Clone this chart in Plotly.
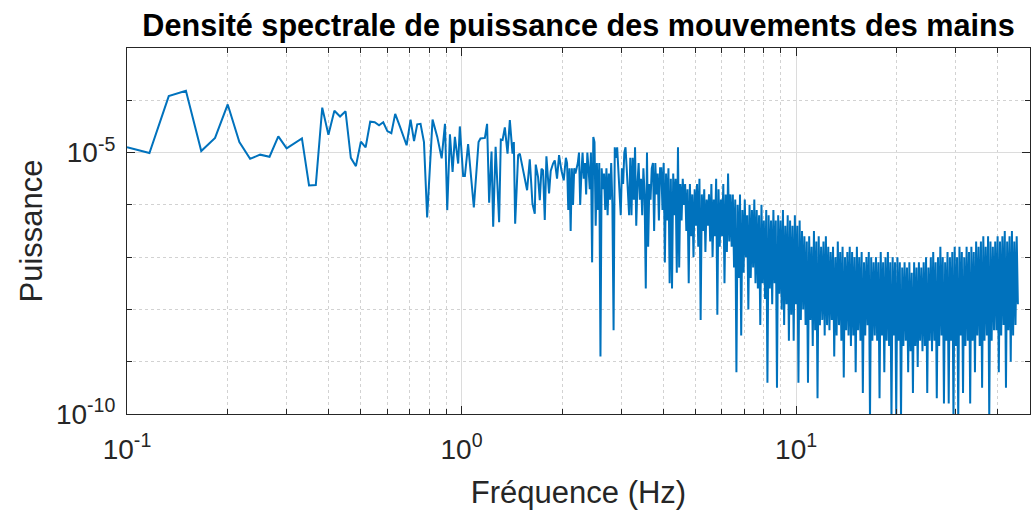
import numpy as np
import plotly.graph_objects as go

# low-frequency part: individual points (Hz, log10 of power)
freq_low = [
    0.1, 0.1167, 0.1333, 0.15, 0.1667, 0.1833, 0.2, 0.2167, 0.2333, 0.25, 0.2667,
    0.2833, 0.3, 0.3167, 0.3333, 0.35, 0.3667, 0.3833, 0.4, 0.4167, 0.4333, 0.45,
    0.4667, 0.4833, 0.5, 0.5167, 0.5333, 0.55, 0.5667, 0.5833, 0.6, 0.6167, 0.6333,
    0.654, 0.685, 0.704, 0.721, 0.737, 0.754, 0.772, 0.789, 0.819, 0.846, 0.872,
    0.892, 0.906, 0.923, 0.940, 0.955, 0.977, 0.988, 1.011, 1.023, 1.046, 1.088,
    1.124, 1.139, 1.174, 1.192, 1.209, 1.229, 1.243, 1.264, 1.295, 1.310, 1.326,
    1.347, 1.372, 1.394, 1.420, 1.433, 1.446, 1.476, 1.493, 1.527, 1.570, 1.599,
    1.629, 1.655, 1.666, 1.693, 1.713, 1.733, 1.752, 1.773, 1.793, 1.826, 1.847,
    1.877, 1.899, 1.929, 1.956, 1.988, 2.020,
]
psd_low_exp = [
    -4.90, -5.01, -3.92, -3.82, -4.97, -4.72, -4.08, -4.80, -5.12, -5.04, -5.08,
    -4.69, -4.92, -4.83, -4.73, -5.63, -5.62, -4.14, -4.66, -4.20, -4.31, -4.21,
    -5.10, -5.26, -4.79, -4.90, -4.41, -4.42, -4.48, -4.42, -4.59, -4.63, -4.26,
    -4.50, -4.86, -4.37, -4.78, -4.46, -4.45, -4.80, -6.24, -4.37, -4.70, -5.11,
    -4.45, -6.10, -4.65, -5.37, -4.70, -5.21, -4.50, -5.45, -5.45, -4.84, -6.05,
    -4.80, -4.73, -4.72, -4.45, -5.96, -4.98, -6.42, -4.89, -6.33, -4.75, -4.76,
    -4.52, -5.02, -4.38, -5.02, -4.80, -6.36, -5.05, -5.02, -5.34, -5.72, -5.13,
    -5.98, -6.17, -5.23, -5.47, -5.91, -5.31, -5.34, -6.29, -5.07, -5.78, -5.35,
    -5.21, -5.15, -5.50, -5.05, -5.34, -5.53,
]

# dense part (2 Hz to 46 Hz), log-spaced sampling, log10 of power
f_dense_start = 2.05
f_dense_end = 46.0
psd_dense_exp = [
    -5.1, -5.2, -6.1, -5.3, -6.5, -5.3, -6.0, -5.3, -5.4, -5.3, -5.2, -5.0, -6.0, -5.4, -5.0, -5.5, -5.2, -5.8, -5.0, -5.3,
    -5.7, -5.0, -7.1, -4.7, -4.8, -6.4, -5.2, -6.1, -5.2, -8.9, -5.3, -5.7, -5.4, -6.1, -5.3, -6.2, -5.4, -5.9, -5.2, -6.0,
    -8.4, -4.9, -5.1, -4.9, -5.3, -5.7, -6.2, -5.3, -5.6, -5.0, -4.9, -5.3, -5.7, -6.2, -5.1, -6.2, -5.1, -5.9, -4.9, -6.4,
    -5.6, -5.2, -5.9, -5.5, -6.2, -5.3, -5.8, -7.6, -5.0, -6.8, -5.6, -5.9, -5.3, -5.2, -6.5, -5.2, -5.8, -5.4, -6.3, -5.3,
    -5.3, -6.1, -5.2, -7.1, -5.4, -6.3, -5.3, -7.5, -5.5, -7.6, -5.4, -6.2, -5.5, -7.3, -4.9, -7.2, -5.6, -6.3, -5.5, -6.0,
    -5.6, -6.5, -5.7, -7.5, -5.6, -6.6, -5.8, -7.0, -5.7, -6.4, -5.6, -6.8, -5.5, -8.2, -5.8, -6.5, -5.7, -6.9, -5.9, -6.4,
    -5.8, -6.7, -5.6, -7.0, -5.9, -6.6, -5.5, -8.1, -5.7, -6.8, -5.9, -6.6, -5.6, -7.5, -5.8, -6.9, -5.4, -6.7, -5.8, -6.8,
    -5.8, -7.2, -5.9, -9.2, -6.0, -7.4, -5.8, -8.5, -6.1, -7.3, -5.9, -7.0, -6.2, -8.0, -6.0, -7.4, -6.1, -7.2, -5.9, -7.5,
    -6.1, -7.6, -6.2, -8.3, -6.0, -7.5, -6.3, -7.8, -6.1, -9.4, -6.2, -7.6, -6.3, -7.9, -6.1, -7.5, -6.3, -9.5, -6.2, -7.7,
    -6.3, -8.0, -6.1, -8.3, -6.4, -7.9, -6.2, -8.6, -6.3, -8.1, -6.4, -8.6, -6.2, -7.9, -6.4, -9.4, -6.3, -8.2, -6.5, -8.0,
    -6.6, -8.3, -6.7, -9.4, -6.6, -8.2, -6.8, -8.7, -6.5, -8.4, -6.7, -9.7, -6.6, -8.3, -6.8, -8.2, -6.7, -8.5, -6.6, -8.3,
    -6.8, -8.4, -6.9, -8.2, -6.8, -8.9, -7.0, -8.5, -6.7, -8.3, -6.9, -8.6, -6.8, -9.3, -7.0, -8.4, -6.9, -8.5, -6.8, -8.7,
    -6.9, -8.5, -7.0, -9.2, -6.8, -8.4, -7.0, -8.6, -6.9, -9.6, -7.1, -8.5, -7.0, -8.3, -6.9, -10.1, -7.0, -8.6, -7.1, -8.5,
    -7.0, -8.6, -7.1, -9.7, -6.9, -8.5, -7.1, -9.2, -7.0, -8.6, -6.9, -8.7, -7.1, -10.1, -7.0, -8.5, -7.1, -10.0, -7.0, -8.6,
    -7.1, -10.1, -7.2, -8.7, -7.1, -8.6, -7.2, -9.2, -7.1, -8.8, -7.3, -9.6, -7.1, -8.7, -7.2, -9.1, -7.1, -8.6, -7.2, -8.8,
    -7.1, -8.7, -7.0, -9.6, -7.2, -8.6, -7.0, -8.8, -6.9, -8.6, -7.1, -9.7, -7.0, -8.7, -6.8, -8.5, -7.0, -9.8, -7.1, -8.6,
    -6.9, -9.8, -7.0, -8.6, -6.9, -10.1, -6.8, -8.7, -7.0, -10.1, -6.8, -8.5, -6.9, -9.6, -7.0, -8.7, -6.8, -8.6, -6.9, -9.8,
    -6.8, -8.6, -6.9, -9.2, -6.7, -8.5, -6.8, -8.7, -6.7, -9.5, -6.6, -8.6, -6.8, -8.5, -6.6, -10.1, -6.7, -8.6, -6.8, -8.4,
    -6.7, -8.4, -6.6, -9.2, -6.7, -8.5, -6.6, -8.3, -6.5, -9.5, -6.7, -8.4, -6.6, -9.0, -6.5, -8.5, -6.7, -8.3, -6.6, -7.9,
]

x_ticks = [0.1, 1, 10]
x_ticktext = ["10<sup>-1</sup>", "10<sup>0</sup>", "10<sup>1</sup>"]
x_minor = [0.2, 0.3, 0.4, 0.5, 0.6, 0.7, 0.8, 0.9, 2, 3, 4, 5, 6, 7, 8, 9, 20, 30, 40, 50]
y_ticks = [1e-10, 1e-5]
y_ticktext = ["10<sup>-10</sup>", "10<sup>-5</sup>"]
y_minor = [1e-9, 1e-8, 1e-7, 1e-6, 1e-4, 1e-3]

freq = freq_low + list(np.geomspace(f_dense_start, f_dense_end, len(psd_dense_exp)))
psd = [10 ** e for e in psd_low_exp + psd_dense_exp]

axis_col = "#262626"
font_family = "Liberation Sans, Arial, sans-serif"

fig = go.Figure(go.Scatter(
    x=freq, y=psd, mode="lines",
    line=dict(color="#0072BD", width=2),
    hoverinfo="x+y",
))

common = dict(
    showline=True, linecolor=axis_col, linewidth=1, mirror="ticks",
    ticks="inside", ticklen=8, tickwidth=1, tickcolor=axis_col,
    showgrid=True, gridcolor="#dcdcdc", gridwidth=1, zeroline=False,
    automargin=False,
    tickfont=dict(size=28, color=axis_col, family=font_family),
)

fig.update_xaxes(
    type="log", range=[-1, np.log10(50)],
    tickmode="array", tickvals=x_ticks, ticktext=x_ticktext,
    minor=dict(tickvals=x_minor, ticks="inside", ticklen=5, tickcolor=axis_col,
               showgrid=True, gridcolor="#d2d2d2", griddash="dot", gridwidth=1),
    title=dict(text="Fréquence (Hz)", font=dict(size=31, color=axis_col, family=font_family), standoff=18),
    ticklabelstandoff=10,
    **common,
)
fig.update_yaxes(
    type="log", range=[-10, -3],
    tickmode="array", tickvals=y_ticks, ticktext=y_ticktext,
    minor=dict(tickvals=y_minor, ticks="inside", ticklen=5, tickcolor=axis_col,
               showgrid=True, gridcolor="#d2d2d2", griddash="dot", gridwidth=1),
    title=dict(text="Puissance", font=dict(size=31, color=axis_col, family=font_family), standoff=4),
    ticklabelstandoff=5,
    **common,
)

fig.update_layout(
    width=1032, height=510,
    margin=dict(l=127, r=2, t=48, b=96),
    paper_bgcolor="white", plot_bgcolor="white",
    showlegend=False,
    title=dict(
        text="<b>Densité spectrale de puissance des mouvements des mains</b>",
        x=0.5, xref="paper", xanchor="center",
        y=0.951, yref="container", yanchor="middle",
        font=dict(size=30.6, color="black", family=font_family),
    ),
)

fig.write_html("out.html", config={"displayModeBar": False},
               post_script="document.body.style.margin='0';")
